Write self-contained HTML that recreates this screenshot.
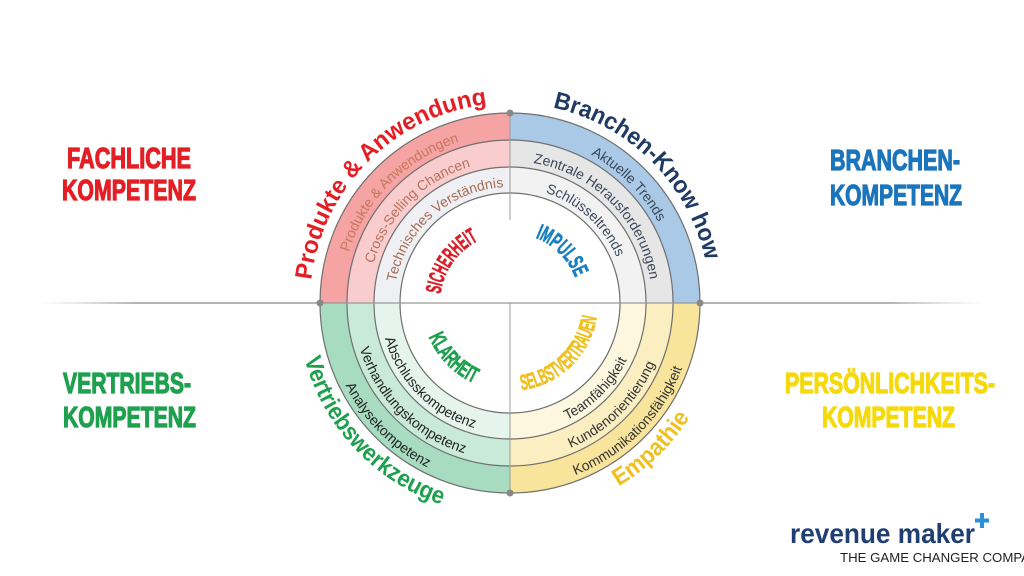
<!DOCTYPE html>
<html><head><meta charset="utf-8"><style>
html,body{margin:0;padding:0;background:#fff;}
svg{display:block;}
.big{font-family:"Liberation Sans",sans-serif;font-weight:bold;font-size:29px;stroke-width:1.2px;}
.ring{font-family:"Liberation Sans",sans-serif;font-size:14px;}
.lab{font-family:"Liberation Sans",sans-serif;font-weight:bold;font-size:24px;}
.inn{font-family:"Liberation Sans",sans-serif;font-weight:bold;font-size:22px;stroke-width:0.7px;}
</style></head><body>
<svg width="1024" height="576" viewBox="0 0 1024 576" xmlns="http://www.w3.org/2000/svg">
<defs>
<linearGradient id="hl" x1="0" x2="1" y1="0" y2="0">
<stop offset="0" stop-color="#ccc" stop-opacity="0"/>
<stop offset="0.1" stop-color="#b5b5b5"/>
<stop offset="0.9" stop-color="#b5b5b5"/>
<stop offset="1" stop-color="#ccc" stop-opacity="0"/>
</linearGradient>
<path id="tl200" d="M310,303 A200,200 0 0 1 510,103"/>
<path id="tl169" d="M341,303 A169,169 0 0 1 510,134"/>
<path id="tl142" d="M368,303 A142,142 0 0 1 510,161"/>
<path id="tl116" d="M394,303 A116,116 0 0 1 510,187"/>
<path id="tl70" d="M440,303 A70,70 0 0 1 510,233"/>
<path id="tr200" d="M510,103 A200,200 0 0 1 710,303"/>
<path id="tr169" d="M510,134 A169,169 0 0 1 679,303"/>
<path id="tr142" d="M510,161 A142,142 0 0 1 652,303"/>
<path id="tr116" d="M510,187 A116,116 0 0 1 626,303"/>
<path id="tr70" d="M510,233 A70,70 0 0 1 580,303"/>
<path id="bl213" d="M297,303 A213,213 0 0 0 510,516"/>
<path id="bl184" d="M326,303 A184,184 0 0 0 510,487"/>
<path id="bl157" d="M353,303 A157,157 0 0 0 510,460"/>
<path id="bl130" d="M380,303 A130,130 0 0 0 510,433"/>
<path id="bl88" d="M422,303 A88,88 0 0 0 510,391"/>
<path id="br213" d="M510,516 A213,213 0 0 0 723,303"/>
<path id="br184" d="M510,487 A184,184 0 0 0 694,303"/>
<path id="br157" d="M510,460 A157,157 0 0 0 667,303"/>
<path id="br130" d="M510,433 A130,130 0 0 0 640,303"/>
<path id="br88" d="M510,391 A88,88 0 0 0 598,303"/>
</defs>

<rect x="40" y="302" width="945" height="2" fill="url(#hl)"/>

<path d="M510,303 L320,303 A190,190 0 0 1 510,113 Z" fill="#f5a3a3"/>
<path d="M510,303 L347,303 A163,163 0 0 1 510,140 Z" fill="#f9cdcd"/>
<path d="M510,303 L374,303 A136,136 0 0 1 510,167 Z" fill="#eef0f4"/>

<path d="M510,303 L510,113 A190,190 0 0 1 700,303 Z" fill="#a9c9e6"/>
<path d="M510,303 L510,140 A163,163 0 0 1 673,303 Z" fill="#e6e6e6"/>
<path d="M510,303 L510,167 A136,136 0 0 1 646,303 Z" fill="#f2f2f2"/>

<path d="M510,303 L320,303 A190,190 0 0 0 510,493 Z" fill="#a7dcc1"/>
<path d="M510,303 L347,303 A163,163 0 0 0 510,466 Z" fill="#c9ead8"/>
<path d="M510,303 L374,303 A136,136 0 0 0 510,439 Z" fill="#e5f4ec"/>

<path d="M510,303 L510,493 A190,190 0 0 0 700,303 Z" fill="#f8e49b"/>
<path d="M510,303 L510,466 A163,163 0 0 0 673,303 Z" fill="#fbefc2"/>
<path d="M510,303 L510,439 A136,136 0 0 0 646,303 Z" fill="#fdf7df"/>

<circle cx="510" cy="303" r="110" fill="#fff"/>
<g fill="none" stroke="#6f6f6f" stroke-width="1.2">
<circle cx="510" cy="303" r="190"/>
<circle cx="510" cy="303" r="163"/>
<circle cx="510" cy="303" r="136"/>
<circle cx="510" cy="303" r="110"/>
</g>
<line x1="510" y1="113" x2="510" y2="220" stroke="#999" stroke-width="1"/>
<line x1="510" y1="303" x2="510" y2="493" stroke="#999" stroke-width="1"/>
<line x1="320" y1="303" x2="700" y2="303" stroke="#999" stroke-width="1.2"/>
<g fill="#888"><circle cx="320" cy="303" r="3.5"/><circle cx="700" cy="303" r="3.5"/><circle cx="510" cy="113" r="3.5"/><circle cx="510" cy="493" r="3.5"/></g>

<g class="ring" text-anchor="middle">
<text fill="#c8765e"><textPath href="#tl169" startOffset="50%">Produkte &amp; Anwendungen</textPath></text>
<text fill="#b9705a"><textPath href="#tl142" startOffset="50%">Cross-Selling Chancen</textPath></text>
<text fill="#a86a52"><textPath href="#tl116" startOffset="54%">Technisches Verständnis</textPath></text>
<text fill="#3a4658"><textPath href="#tr169" startOffset="50%">Aktuelle Trends</textPath></text>
<text fill="#3a4658"><textPath href="#tr142" startOffset="50%">Zentrale Herausforderungen</textPath></text>
<text fill="#3a4658"><textPath href="#tr116" startOffset="47%">Schlüsseltrends</textPath></text>
<text fill="#222"><textPath href="#bl184" startOffset="50%">Analysekompetenz</textPath></text>
<text fill="#222"><textPath href="#bl157" startOffset="50%">Verhandlungskompetenz</textPath></text>
<text fill="#222"><textPath href="#bl130" startOffset="50%">Abschlusskompetenz</textPath></text>
<text fill="#333"><textPath href="#br184" startOffset="50%">Kommunikationsfähigkeit</textPath></text>
<text fill="#333"><textPath href="#br157" startOffset="50%">Kundenorientierung</textPath></text>
<text fill="#333"><textPath href="#br130" startOffset="50%">Teamfähigkeit</textPath></text>
</g>

<g class="lab" text-anchor="middle">
<text fill="#e31e24"><textPath href="#tl200" startOffset="50%" textLength="268" lengthAdjust="spacingAndGlyphs">Produkte &amp; Anwendung</textPath></text>
<text fill="#1f3a63"><textPath href="#tr200" startOffset="50%" textLength="228" lengthAdjust="spacingAndGlyphs">Branchen-Know how</textPath></text>
<text fill="#1fa04f"><textPath href="#bl213" startOffset="48%" textLength="208" lengthAdjust="spacingAndGlyphs">Vertriebswerkzeuge</textPath></text>
<text fill="#f0c020"><textPath href="#br213" startOffset="49%" textLength="100" lengthAdjust="spacingAndGlyphs">Empathie</textPath></text>
</g>

<g class="inn" text-anchor="middle">
<text fill="#d8202a" stroke="#d8202a"><textPath href="#tl70" startOffset="39%" textLength="68" lengthAdjust="spacingAndGlyphs">SICHERHEIT</textPath></text>
<text fill="#1a80c0" stroke="#1a80c0"><textPath href="#tr70" startOffset="50%" textLength="58" lengthAdjust="spacingAndGlyphs">IMPULSE</textPath></text>
<text fill="#1fa04f" stroke="#1fa04f"><textPath href="#bl88" startOffset="49%" textLength="66" lengthAdjust="spacingAndGlyphs">KLARHEIT</textPath></text>
<text fill="#f0c020" stroke="#f0c020"><textPath href="#br88" startOffset="49%" textLength="112" lengthAdjust="spacingAndGlyphs">SELBSTVERTRAUEN</textPath></text>
</g>

<g class="big">
<text x="67" y="168" fill="#e31e24" stroke="#e31e24" textLength="124" lengthAdjust="spacingAndGlyphs">FACHLICHE</text>
<text x="62" y="200" fill="#e31e24" stroke="#e31e24" textLength="134" lengthAdjust="spacingAndGlyphs">KOMPETENZ</text>
<text x="830" y="170" fill="#1b75bc" stroke="#1b75bc" textLength="130" lengthAdjust="spacingAndGlyphs">BRANCHEN-</text>
<text x="830" y="205" fill="#1b75bc" stroke="#1b75bc" textLength="132" lengthAdjust="spacingAndGlyphs">KOMPETENZ</text>
<text x="63" y="393" fill="#1fa04f" stroke="#1fa04f" textLength="128" lengthAdjust="spacingAndGlyphs">VERTRIEBS-</text>
<text x="63" y="427" fill="#1fa04f" stroke="#1fa04f" textLength="133" lengthAdjust="spacingAndGlyphs">KOMPETENZ</text>
<text x="785" y="393" fill="#f5d90a" stroke="#f5d90a" textLength="210" lengthAdjust="spacingAndGlyphs">PERSÖNLICHKEITS-</text>
<text x="822" y="427" fill="#f5d90a" stroke="#f5d90a" textLength="133" lengthAdjust="spacingAndGlyphs">KOMPETENZ</text>
</g>

<text x="790" y="543" font-family="Liberation Sans, sans-serif" font-weight="bold" font-size="28" fill="#1f3f73" textLength="185" lengthAdjust="spacingAndGlyphs">revenue maker</text>
<g fill="#2a8fd8"><rect x="980" y="513" width="4" height="15"/><rect x="975" y="518.5" width="14" height="4"/></g>
<text x="840" y="562" font-family="Liberation Sans, sans-serif" font-size="13" fill="#222" textLength="190" lengthAdjust="spacingAndGlyphs">THE GAME CHANGER COMPA</text>
</svg>
</body></html>
